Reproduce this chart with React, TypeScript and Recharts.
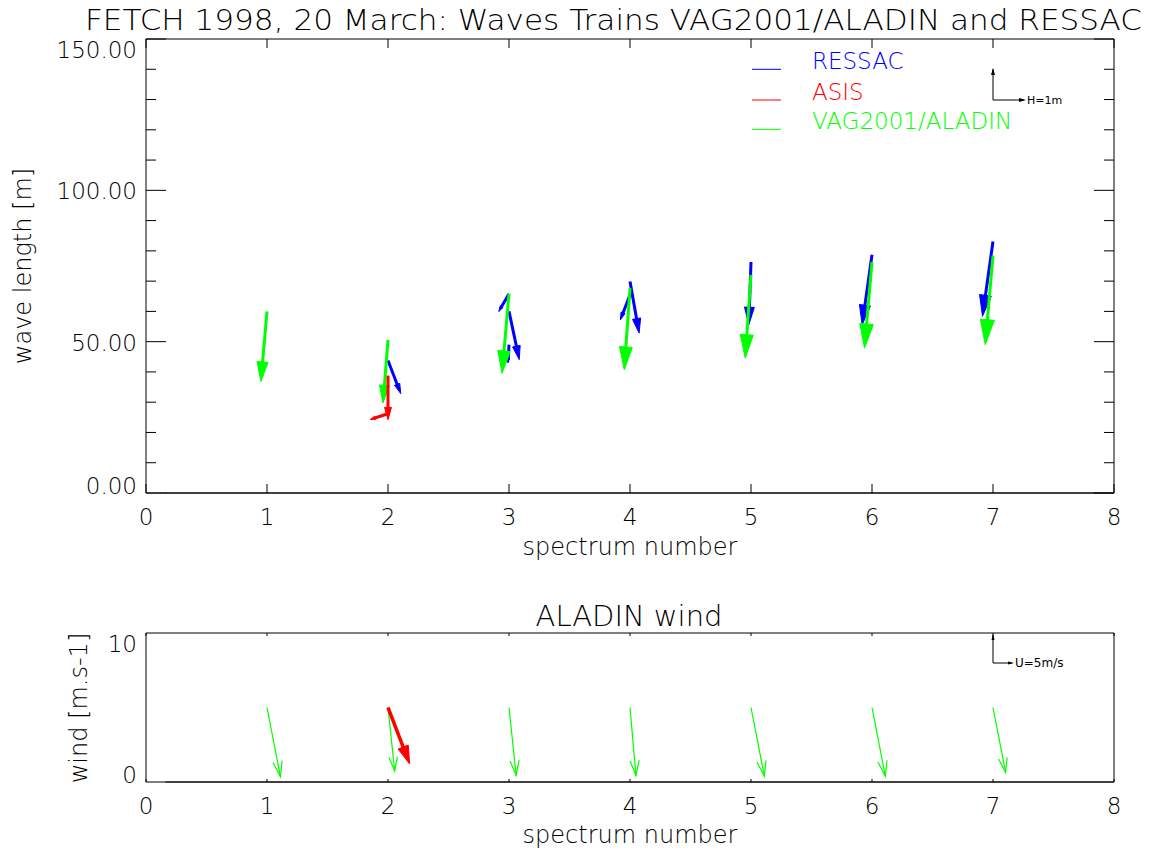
import React from 'react';
import { ScatterChart, Scatter, XAxis, YAxis, ReferenceLine, Legend } from 'recharts';

const FONT = '"DejaVu Sans", "Liberation Sans", Arial, sans-serif';
const WEIGHT = 200;

const TITLE = 'FETCH 1998, 20 March: Waves Trains VAG2001/ALADIN and RESSAC';
const WIND_TITLE = 'ALADIN wind';

const spectrumTicks = [0, 1, 2, 3, 4, 5, 6, 7, 8];
const lengthTicks = [0, 10, 20, 30, 40, 50, 60, 70, 80, 90, 100, 110, 120, 130, 140, 150];
const lengthMajorTicks = [0, 50, 100, 150];
const windTicks = [0, 10];

const legendNames = ['RESSAC', 'ASIS', 'VAG2001/ALADIN'];
const legendColors = ['#0000ff', '#ff0000', '#00ff00'];

// wave trains: spectrum number, wave length [m], height [m], direction [deg, clockwise from up]
const ressacSpectrum = [2, 3, 3, 3, 4, 4, 5, 6, 7];
const ressacLength = [43.8, 65.8, 60.0, 49.0, 69.9, 65.5, 76.3, 78.7, 83.1];
const ressacHeight = [1.11, 0.64, 1.54, 0.57, 1.64, 0.84, 1.96, 2.21, 2.36];
const ressacDir = [159, 210, 168, 183, 170, 201, 182, 188, 188];

const asisSpectrum = [2, 2];
const asisLength = [38.8, 26.2];
const asisHeight = [1.38, 0.59];
const asisDir = [180, 252];

const vagSpectrum = [1, 2, 3, 4, 5, 6, 7];
const vagLength = [60.0, 50.6, 65.8, 67.7, 72.1, 76.3, 78.4];
const vagHeight = [2.2, 1.98, 2.49, 2.56, 2.61, 2.7, 2.79];
const vagDir = [185, 184.5, 185, 184, 184, 185, 185];

// ALADIN wind: speed [m/s], direction
const windSpectrum = [1, 2, 3, 4, 5, 6, 7];
const windSpeed = [12.6, 11.4, 12.2, 12.2, 12.5, 12.5, 11.8];
const windDir = [169, 174, 174, 175, 169, 169, 169];
const asisWindSpectrum = [2];
const asisWindSpeed = [10.8];
const asisWindDir = [159];
const WIND_LEVEL = 5;

const PX_PER_M = 32; // H=1m key
const PX_PER_MS = 5.6; // U=5m/s key

const trains = (s: number[], l: number[], h: number[], d: number[]) =>
  s.map((x, i) => ({ spectrum: x, wavelength: l[i], height: h[i], dir: d[i] }));
const winds = (s: number[], u: number[], d: number[]) =>
  s.map((x, i) => ({ spectrum: x, level: WIND_LEVEL, speed: u[i], dir: d[i] }));

const ressacData = trains(ressacSpectrum, ressacLength, ressacHeight, ressacDir);
const asisData = trains(asisSpectrum, asisLength, asisHeight, asisDir);
const vagData = trains(vagSpectrum, vagLength, vagHeight, vagDir);
const windData = winds(windSpectrum, windSpeed, windDir);
const asisWindData = winds(asisWindSpectrum, asisWindSpeed, asisWindDir);

const PLOT_LEFT = 146;
const PLOT_RIGHT = 1114;

type ArrowProps = {
  cx: number; cy: number; length: number; dir: number; color: string;
  width: number; head: number; spread: number; open?: boolean;
};

function Arrow({ cx, cy, length, dir, color, width, head, spread, open }: ArrowProps) {
  if (cx == null || cy == null) return null;
  const a = (dir * Math.PI) / 180;
  const ux = Math.sin(a);
  const uy = -Math.cos(a);
  const tx = cx + ux * length;
  const ty = cy + uy * length;
  const h = length * head;
  const w = h * spread;
  const bx = tx - ux * h;
  const by = ty - uy * h;
  const px = -uy;
  const py = ux;
  const lx = bx + px * w, ly = by + py * w;
  const rx = bx - px * w, ry = by - py * w;
  if (open) {
    return (
      <g>
        <line x1={cx} y1={cy} x2={tx} y2={ty} stroke={color} strokeWidth={width} />
        <polyline points={`${lx},${ly} ${tx},${ty} ${rx},${ry}`} fill="none" stroke={color} strokeWidth={width} />
      </g>
    );
  }
  return (
    <g>
      <line x1={cx} y1={cy} x2={bx + ux * 2} y2={by + uy * 2} stroke={color} strokeWidth={width} />
      <polygon points={`${tx},${ty} ${lx},${ly} ${rx},${ry}`} fill={color} stroke={color} strokeWidth={1} strokeLinejoin="miter" />
    </g>
  );
}

const trainShape = (color: string) => (p: any) => (
  <Arrow cx={p.cx} cy={p.cy} length={p.payload.height * PX_PER_M} dir={p.payload.dir}
    color={color} width={3} head={0.28} spread={0.28} />
);

const windShape = (color: string, thick: boolean) => (p: any) => (
  <Arrow cx={p.cx} cy={p.cy} length={p.payload.speed * PX_PER_MS} dir={p.payload.dir}
    color={color} width={thick ? 3.5 : 1.2} head={thick ? 0.3 : 0.22} spread={thick ? 0.3 : 0.3} open={!thick} />
);

const textStyle = { fontFamily: FONT, fontWeight: WEIGHT, fill: '#000' };

const XTick = (props: any) => {
  const { x, y, payload, top, len } = props;
  return (
    <g>
      <line x1={x} x2={x} y1={y} y2={y - len} stroke="#000" />
      <line x1={x} x2={x} y1={top} y2={top + len} stroke="#000" />
      <text x={x} y={y + 32} textAnchor="middle" fontSize={23} {...textStyle}>{payload.value}</text>
    </g>
  );
};

const YTick = (props: any) => {
  const { x, y, payload, majors, min, max, digits, showTicks } = props;
  const v = payload.value;
  const major = majors.includes(v);
  const len = major ? 20 : 10;
  const shift = v === max ? 11 : v === min ? -7 : 1;
  return (
    <g>
      {showTicks && <line x1={x} x2={x + len} y1={y} y2={y} stroke="#000" />}
      {showTicks && <line x1={PLOT_RIGHT} x2={PLOT_RIGHT - len} y1={y} y2={y} stroke="#000" />}
      {major && (
        <text x={137} y={y + shift + 8} textAnchor="end" fontSize={23} {...textStyle}>
          {v.toFixed(digits)}
        </text>
      )}
    </g>
  );
};

const renderTitle = () => (
  <text x={85} y={30} fontSize={29} textLength={1057} lengthAdjust="spacingAndGlyphs" {...textStyle}>{TITLE}</text>
);
const renderWindTitle = () => (
  <text x={629} y={56} fontSize={29} textAnchor="middle" {...textStyle}>{WIND_TITLE}</text>
);
const spectrumLabel = (baseline: number) => () => (
  <text x={630} y={baseline} fontSize={24} textAnchor="middle" {...textStyle}>spectrum number</text>
);
const verticalLabel = (text: string, bx: number, cy: number) => () => (
  <text x={bx} y={cy} fontSize={24} textAnchor="middle" transform={`rotate(-90, ${bx}, ${cy})`} {...textStyle}>{text}</text>
);

const WaveLegend = () => (
  <svg width={400} height={110} style={{ display: 'block', overflow: 'visible' }}>
    {legendNames.map((name, i) => {
      const y = [29.3, 60, 89.3][i];
      return (
        <g key={name}>
          <line x1={12} x2={41} y1={y} y2={y} stroke={legendColors[i]} strokeWidth={1} />
          <text x={72} y={y} fontSize={23} fontFamily={FONT} fontWeight={WEIGHT} fill={legendColors[i]}>{name}</text>
        </g>
      );
    })}
    <line x1={253} x2={253} y1={60} y2={29} stroke="#000" />
    <polygon points="253,28 251,35 255,35" fill="#000" />
    <line x1={253} x2={284} y1={60} y2={60} stroke="#000" />
    <polygon points="286,60 279,58 279,62" fill="#000" />
    <text x={287} y={64} fontSize={11} fontFamily={FONT} fill="#000">H=1m</text>
  </svg>
);

const WindLegend = () => (
  <svg width={150} height={45} style={{ display: 'block', overflow: 'visible' }}>
    <line x1={33} x2={33} y1={33} y2={5} stroke="#000" />
    <polygon points="33,4 31.5,10 34.5,10" fill="#000" />
    <line x1={33} x2={52} y1={33} y2={33} stroke="#000" />
    <polygon points="54,33 48,31.5 48,34.5" fill="#000" />
    <text x={55} y={37} fontSize={12} fontFamily={FONT} fill="#000">U=5m/s</text>
  </svg>
);

export default function App() {
  return (
    <div style={{ position: 'absolute', left: 0, top: 0, width: 1152, height: 854, background: '#fff' }}>
      <div style={{ position: 'absolute', left: 0, top: 0 }}>
        <ScatterChart width={1152} height={570} margin={{ top: 39, right: 38, bottom: 0, left: 0 }}>
          <XAxis type="number" dataKey="spectrum" domain={[0, 8]} ticks={spectrumTicks} interval={0}
            height={77} tickSize={0} tickMargin={0} tickLine={false} axisLine={{ stroke: '#000' }}
            tick={<XTick top={39} len={9} />} label={spectrumLabel(555)} />
          <YAxis type="number" dataKey="wavelength" domain={[0, 150]} ticks={lengthTicks} interval={0}
            width={146} tickSize={0} tickMargin={0} tickLine={false} axisLine={{ stroke: '#000' }}
            tick={<YTick majors={lengthMajorTicks} min={0} max={150} digits={2} showTicks />}
            label={verticalLabel('wave length [m]', 31, 266)} />
          <ReferenceLine y={150} stroke="#000" label={renderTitle} />
          <ReferenceLine x={8} stroke="#000" />
          <ReferenceLine segment={[{ x: 0.16, y: 0 }, { x: 8, y: 0 }]} stroke="#808080" strokeWidth={2} />
          <Scatter name="RESSAC" data={ressacData} fill={legendColors[0]} isAnimationActive={false} shape={trainShape(legendColors[0])} />
          <Scatter name="VAG2001/ALADIN" data={vagData} fill={legendColors[2]} isAnimationActive={false} shape={trainShape(legendColors[2])} />
          <Scatter name="ASIS" data={asisData} fill={legendColors[1]} isAnimationActive={false} shape={trainShape(legendColors[1])} />
          <Legend layout="horizontal" verticalAlign="middle" align="center" content={() => <WaveLegend />}
            wrapperStyle={{ left: 740, top: 40, width: 400, height: 110, margin: 0 }} />
        </ScatterChart>
      </div>
      <div style={{ position: 'absolute', left: 0, top: 570 }}>
        <ScatterChart width={1152} height={284} margin={{ top: 63, right: 38, bottom: 0, left: 0 }}>
          <XAxis type="number" dataKey="spectrum" domain={[0, 8]} ticks={spectrumTicks} interval={0}
            height={72} tickSize={0} tickMargin={0} tickLine={false} axisLine={{ stroke: '#000' }}
            tick={<XTick top={63} len={3} />} label={spectrumLabel(273)} />
          <YAxis type="number" dataKey="level" domain={[0, 10]} ticks={windTicks} interval={0}
            width={146} tickSize={0} tickMargin={0} tickLine={false} axisLine={{ stroke: '#000' }}
            tick={<YTick majors={windTicks} min={0} max={10} digits={0} showTicks={false} />}
            label={verticalLabel('wind [m.s-1]', 87, 138)} />
          <ReferenceLine y={10} stroke="#000" label={renderWindTitle} />
          <ReferenceLine x={8} stroke="#000" />
          <ReferenceLine segment={[{ x: 0.16, y: 0 }, { x: 8, y: 0 }]} stroke="#808080" strokeWidth={2} />
          <Scatter name="ALADIN wind" data={windData} fill={legendColors[2]} isAnimationActive={false} shape={windShape(legendColors[2], false)} />
          <Scatter name="ASIS wind" data={asisWindData} fill={legendColors[1]} isAnimationActive={false} shape={windShape(legendColors[1], true)} />
          <Legend layout="horizontal" verticalAlign="middle" align="center" content={() => <WindLegend />}
            wrapperStyle={{ left: 960, top: 60, width: 150, height: 45, margin: 0 }} />
        </ScatterChart>
      </div>
    </div>
  );
}
